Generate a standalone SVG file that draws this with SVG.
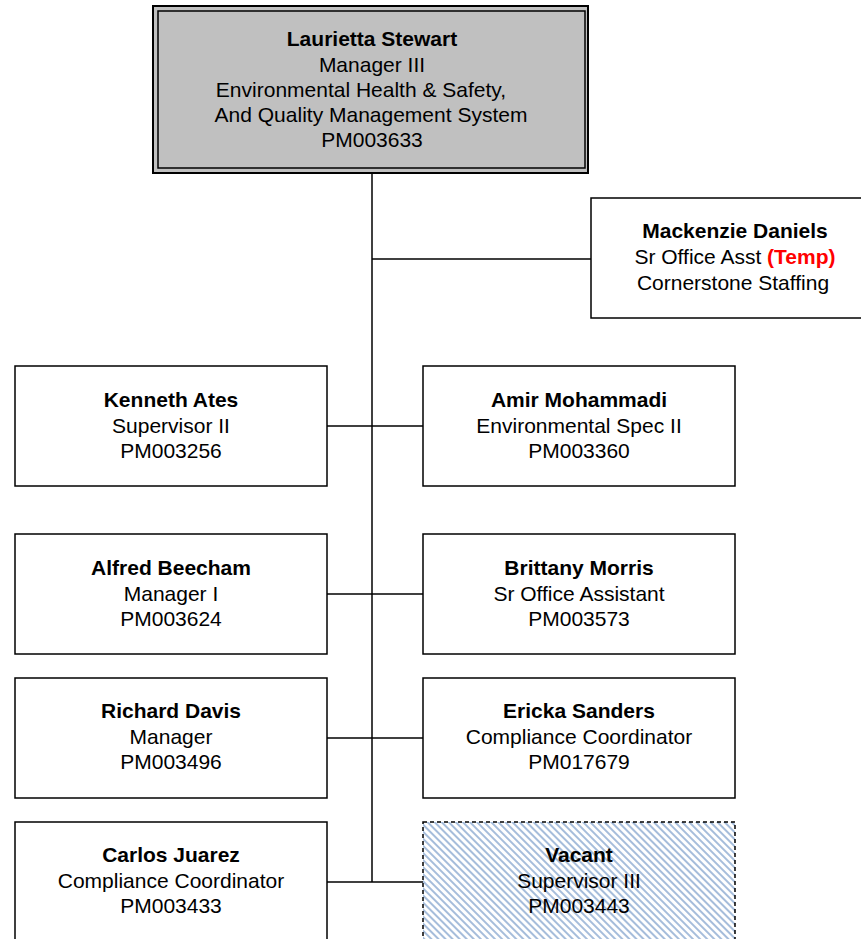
<svg xmlns="http://www.w3.org/2000/svg" width="861" height="939" viewBox="0 0 861 939">
<defs>
<pattern id="hatch" width="5" height="5" patternUnits="userSpaceOnUse" patternTransform="rotate(-45)">
<rect width="5" height="5" fill="#ffffff"/>
<rect x="0" y="0" width="2" height="5" fill="#a6bddb"/>
</pattern>
</defs>
<style>
.box{fill:#ffffff;stroke:#000;stroke-width:1.5}
.t{font-family:"Liberation Sans",Arial,sans-serif;font-size:21px;text-anchor:middle;fill:#000}
.b{font-weight:bold}
.conn{stroke:#000;stroke-width:1.5;fill:none}
</style>
<g id="connectors">
<line class="conn" x1="372" y1="173" x2="372" y2="882"/>
<line class="conn" x1="372" y1="259" x2="591" y2="259"/>
<line class="conn" x1="327" y1="426" x2="423" y2="426"/>
<line class="conn" x1="327" y1="594" x2="423" y2="594"/>
<line class="conn" x1="327" y1="738" x2="423" y2="738"/>
<line class="conn" x1="327" y1="882" x2="423" y2="882"/>
</g>
<g id="n-stewart">
<rect x="153" y="6" width="435" height="167" fill="#c0c0c0" stroke="#000" stroke-width="2"/>
<rect x="158" y="11" width="427" height="157" fill="none" stroke="#000" stroke-width="1.5"/>
<text class="t b" x="372" y="46">Laurietta Stewart</text>
<text class="t" x="372" y="71.5">Manager III</text>
<text class="t" x="361" y="97">Environmental Health &amp; Safety,</text>
<text class="t" x="371" y="122">And Quality Management System</text>
<text class="t" x="372" y="147">PM003633</text>
</g>
<g id="n-daniels">
<rect class="box" x="591" y="198" width="278" height="120"/>
<text class="t b" x="735" y="238">Mackenzie Daniels</text>
<text class="t" x="735" y="264">Sr Office Asst <tspan fill="#ff0000" font-weight="bold">(Temp)</tspan></text>
<text class="t" x="733" y="290">Cornerstone Staffing</text>
</g>
<g id="n-ates">
<rect class="box" x="15" y="366" width="312" height="120"/>
<text class="t b" x="171" y="407">Kenneth Ates</text>
<text class="t" x="171" y="432.5">Supervisor II</text>
<text class="t" x="171" y="458">PM003256</text>
</g>
<g id="n-mohammadi">
<rect class="box" x="423" y="366" width="312" height="120"/>
<text class="t b" x="579" y="407">Amir Mohammadi</text>
<text class="t" x="579" y="432.5">Environmental Spec II</text>
<text class="t" x="579" y="458">PM003360</text>
</g>
<g id="n-beecham">
<rect class="box" x="15" y="534" width="312" height="120"/>
<text class="t b" x="171" y="575">Alfred Beecham</text>
<text class="t" x="171" y="600.5">Manager I</text>
<text class="t" x="171" y="626">PM003624</text>
</g>
<g id="n-morris">
<rect class="box" x="423" y="534" width="312" height="120"/>
<text class="t b" x="579" y="575">Brittany Morris</text>
<text class="t" x="579" y="600.5">Sr Office Assistant</text>
<text class="t" x="579" y="626">PM003573</text>
</g>
<g id="n-davis">
<rect class="box" x="15" y="678" width="312" height="120"/>
<text class="t b" x="171" y="718">Richard Davis</text>
<text class="t" x="171" y="743.5">Manager</text>
<text class="t" x="171" y="769">PM003496</text>
</g>
<g id="n-sanders">
<rect class="box" x="423" y="678" width="312" height="120"/>
<text class="t b" x="579" y="718">Ericka Sanders</text>
<text class="t" x="579" y="743.5">Compliance Coordinator</text>
<text class="t" x="579" y="769">PM017679</text>
</g>
<g id="n-juarez">
<rect class="box" x="15" y="822" width="312" height="130"/>
<text class="t b" x="171" y="862">Carlos Juarez</text>
<text class="t" x="171" y="887.5">Compliance Coordinator</text>
<text class="t" x="171" y="913">PM003433</text>
</g>
<g id="n-vacant">
<rect x="423" y="822" width="312" height="130" fill="url(#hatch)" stroke="#000" stroke-width="1.5" stroke-dasharray="4,3"/>
<text class="t b" x="579" y="862">Vacant</text>
<text class="t" x="579" y="887.5">Supervisor III</text>
<text class="t" x="579" y="913">PM003443</text>
</g>
</svg>
